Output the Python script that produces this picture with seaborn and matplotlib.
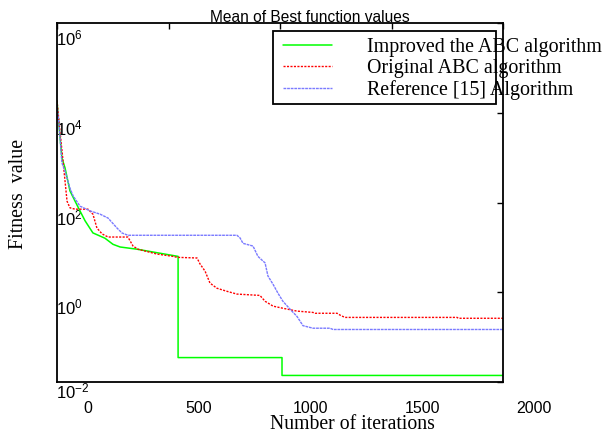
import matplotlib
matplotlib.use("Agg")
import numpy as np
import pandas as pd
import seaborn as sns
import matplotlib.pyplot as plt
from matplotlib.transforms import ScaledTranslation
from matplotlib.patches import Rectangle
from matplotlib.ticker import NullLocator

# ---------------- data ----------------
improved_iter = [0, 4, 22, 36, 58, 81, 103, 126, 161, 215, 251, 283, 359, 462, 543, 543, 1009, 1009, 2000]
improved_val = [18600, 10000, 980, 590, 182, 107, 65, 39, 21, 16, 11.7, 10.2, 9.1, 7.4, 6.3, 0.035, 0.035, 0.014, 0.014]

original_iter = [0, 13, 27, 36, 45, 58, 81, 139, 161, 179, 202, 229, 318, 341, 363, 448, 520, 538, 628, 641,
                 664, 686, 717, 762, 807, 910, 933, 969, 1013, 1076, 1148, 1157, 1256, 1269, 1291, 1794, 1800, 2000]
original_val = [18600, 4000, 850, 300, 107, 76, 71, 71, 55, 27, 20, 17, 17, 10.7, 9.1, 7.1, 6.3, 6.0, 5.8, 4.3,
                2.95, 1.6, 1.23, 1.05, 0.91, 0.85, 0.63, 0.49, 0.44, 0.38, 0.355, 0.34, 0.34, 0.31, 0.275, 0.275, 0.263, 0.263]

reference_iter = [0, 9, 22, 36, 58, 72, 103, 148, 193, 229, 269, 291, 318, 807, 821, 834, 879, 901, 933, 946,
                  969, 991, 1013, 1045, 1076, 1103, 1148, 1224, 1238, 2000]
reference_val = [14500, 5600, 760, 500, 210, 141, 83, 65, 55, 45, 27, 21, 18.6, 18.6, 16.2, 12.3, 10.7, 6.3, 4.5, 2.3,
                 1.5, 0.95, 0.63, 0.42, 0.29, 0.18, 0.158, 0.158, 0.148, 0.148]

series_names = ["Improved the ABC algorithm", "Original ABC algorithm", "Reference [15] Algorithm"]

x_ticks = [0, 500, 1000, 1500, 2000]
x_tick_labels = ["0", "500", "1000", "1500", "2000"]
y_ticks = [1e-2, 1e0, 1e2, 1e4, 1e6]
y_tick_labels = [r"$10^{-2}$", r"$10^{0}$", r"$10^{2}$", r"$10^{4}$", r"$10^{6}$"]

title_text = "Mean of Best function values"
x_label = "Number of iterations"
y_label = "Fitness  value"

# ---------------- style ----------------
sns.set_theme(style="white")
plt.rcParams["font.family"] = ["Liberation Sans", "DejaVu Sans"]
plt.rcParams["mathtext.fontset"] = "custom"
plt.rcParams["mathtext.rm"] = "Liberation Sans"
plt.rcParams["mathtext.it"] = "Liberation Sans:italic"
plt.rcParams["mathtext.bf"] = "Liberation Sans:bold"

W, H, DPI = 606, 437, 100
fig = plt.figure(figsize=(W / DPI, H / DPI), dpi=DPI)
fig.patch.set_facecolor("white")
ax_l, ax_r, ax_t, ax_b = 57, 503, 23, 382
ax = fig.add_axes([ax_l / W, 1 - ax_b / H, (ax_r - ax_l) / W, (ax_b - ax_t) / H])
ax.set_facecolor("white")

styles = [
    dict(color="#00ff00", linewidth=1.1, linestyle="-"),
    dict(color="#ff0000", linewidth=1.0, linestyle=(0, (1.5, 1))),
    dict(color="#7a7aff", linewidth=1.0, linestyle=(0, (2, 0.6))),
]
data = [(improved_iter, improved_val), (original_iter, original_val), (reference_iter, reference_val)]
for (xs, ys), name, st in zip(data, series_names, styles):
    df = pd.DataFrame({"iteration": xs, "value": ys})
    sns.lineplot(data=df, x="iteration", y="value", sort=False, estimator=None,
                 ax=ax, label=name, **st)

ax.set_yscale("log")
ax.set_xlim(0, 2000)
ax.set_ylim(1e-2, 1e6)
ax.yaxis.set_minor_locator(NullLocator())
ax.xaxis.set_minor_locator(NullLocator())
ax.set_xticks(x_ticks, x_tick_labels)
ax.set_yticks(y_ticks, y_tick_labels)

for sp in ax.spines.values():
    sp.set_visible(True)
    sp.set_color("black")
    sp.set_linewidth(1.3)

ax.tick_params(axis="both", which="major", direction="in", length=4, width=1,
               colors="black", top=True, right=True, labelsize=11.5)
ax.tick_params(axis="x", pad=14)
ax.tick_params(axis="y", pad=1, labelsize=12)
ax.grid(False)

# title
ax.set_title(title_text, x=(310 - ax_l) / (ax_r - ax_l), pad=0.5, fontsize=11.2,
             family=["Liberation Sans", "DejaVu Sans"], color="black")

# axis labels
ax.set_xlabel(x_label, family=["Liberation Serif", "DejaVu Serif"], fontsize=14.2, color="black")
ax.set_ylabel(y_label, family=["Liberation Serif", "DejaVu Serif"], fontsize=14.4, color="black")
ax.xaxis.set_label_coords((352 - ax_l) / (ax_r - ax_l), (ax_b - 415) / (ax_b - ax_t))
ax.yaxis.set_label_coords((28 - ax_l) / (ax_r - ax_l), (ax_b - 194) / (ax_b - ax_t))

# legend (texts overflow the drawn box, as in the reference)
handles, labels = ax.get_legend_handles_labels()
leg = ax.legend(handles, labels, loc="upper left",
                bbox_to_anchor=(283 / W, 1 - 38 / H), bbox_transform=fig.transFigure,
                frameon=False, borderpad=0, borderaxespad=0,
                handlelength=2.45, handletextpad=1.75, labelspacing=0.1,
                prop={"family": ["Liberation Serif", "DejaVu Serif"], "size": 14.4})
for t in leg.get_texts():
    t.set_color("black")
leg.set_zorder(6)
box = Rectangle(((273 - ax_l) / (ax_r - ax_l), (ax_b - 104) / (ax_b - ax_t)),
                (496 - 273) / (ax_r - ax_l), (104 - 31) / (ax_b - ax_t),
                transform=ax.transAxes, facecolor="white", edgecolor="black",
                linewidth=1.3, zorder=5, clip_on=False)
ax.add_patch(box)

# shift tick labels like the reference (x labels to the right, y labels inside & lower)
for lab in ax.get_xticklabels():
    lab.set_transform(lab.get_transform() + ScaledTranslation(30.5 / DPI, 0, fig.dpi_scale_trans))
for i, lab in enumerate(ax.get_yticklabels()):
    lab.set_horizontalalignment("left")
    dy = -8 if i == 0 else -14
    lab.set_transform(lab.get_transform() + ScaledTranslation(0, dy / DPI, fig.dpi_scale_trans))

fig.savefig("out.png", dpi=DPI, facecolor="white")
